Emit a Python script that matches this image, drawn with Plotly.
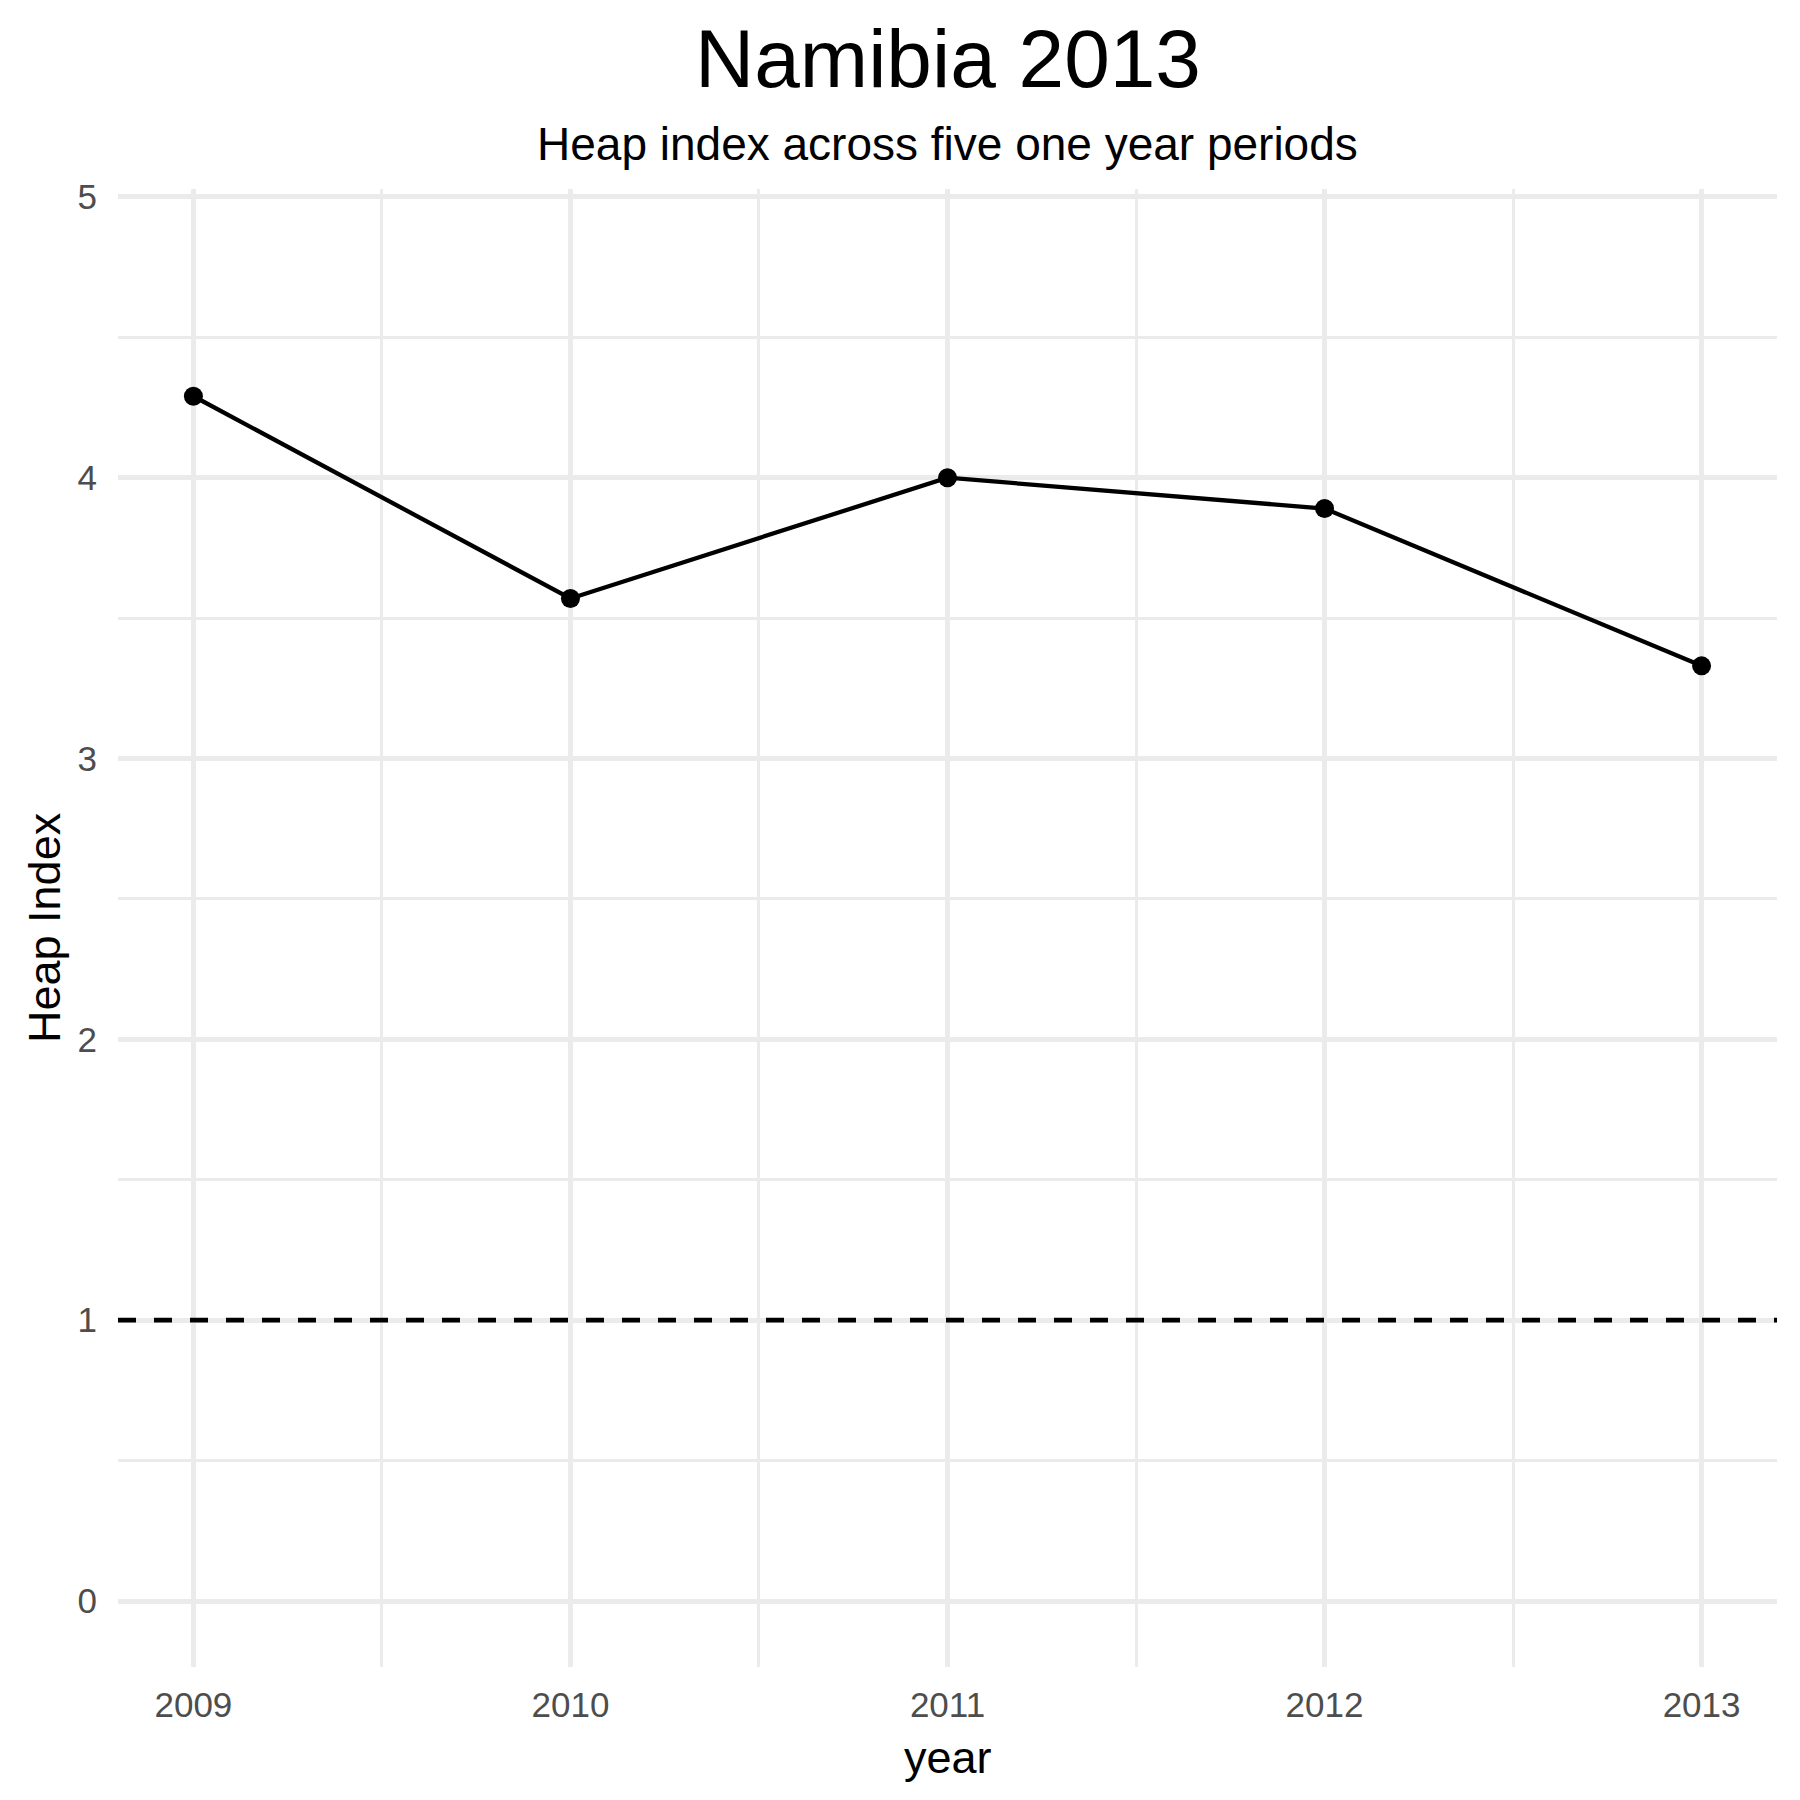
import plotly.graph_objects as go

years = [2009, 2010, 2011, 2012, 2013]
heap_index = [4.29, 3.57, 4.00, 3.89, 3.33]
reference_level = 1
y_ticks = [0, 1, 2, 3, 4, 5]

title_text = "Namibia 2013"
subtitle_text = "Heap index across five one year periods"
x_title = "year"
y_title = "Heap Index"

FONT = "Liberation Sans"
GRID = "#EBEBEB"

fig = go.Figure()

fig.add_trace(go.Scatter(
    x=years, y=heap_index, mode="lines+markers",
    line=dict(color="black", width=4.3),
    marker=dict(color="black", size=19),
    showlegend=False, hoverinfo="x+y",
))

fig.add_shape(
    type="line", xref="paper", yref="y", x0=0, x1=1,
    y0=reference_level, y1=reference_level,
    line=dict(color="black", width=4.7, dash="18px,18px"),
)

fig.update_layout(
    width=1800, height=1800,
    margin=dict(l=110, r=31, t=181, b=141),
    paper_bgcolor="white", plot_bgcolor="white",
    font=dict(family=FONT, color="black"),
    showlegend=False,
    xaxis=dict(
        range=[2008.8, 2013.2],
        tickvals=years, ticktext=[str(y) for y in years],
        showgrid=True, gridcolor=GRID, gridwidth=4.5,
        minor=dict(dtick=0.5, tick0=2009, showgrid=True, gridcolor=GRID, gridwidth=2.5),
        zeroline=False, showline=False, ticks="",
        tickfont=dict(family=FONT, size=35, color="#4D4D4D"),
        ticklabelstandoff=14,
    ),
    yaxis=dict(
        range=[-0.235, 5.028],
        tickvals=y_ticks, ticktext=[str(v) for v in y_ticks],
        showgrid=True, gridcolor=GRID, gridwidth=4.5,
        minor=dict(dtick=0.5, tick0=0, showgrid=True, gridcolor=GRID, gridwidth=2.5),
        zeroline=False, showline=False, ticks="",
        tickfont=dict(family=FONT, size=35, color="#4D4D4D"),
        ticklabelstandoff=20,
    ),
    annotations=[
        dict(text=title_text, xref="paper", yref="paper", x=0.5, y=1,
             xanchor="center", yanchor="middle", yshift=131, showarrow=False,
             font=dict(family=FONT, size=82, color="black")),
        dict(text=subtitle_text, xref="paper", yref="paper", x=0.5, y=1,
             xanchor="center", yanchor="middle", yshift=45, showarrow=False,
             font=dict(family=FONT, size=46, color="black")),
        dict(text=x_title, xref="paper", yref="paper", x=0.5, y=0,
             xanchor="center", yanchor="middle", yshift=-90, showarrow=False,
             font=dict(family=FONT, size=45, color="black")),
        dict(text=y_title, xref="paper", yref="paper", x=0, y=0.5,
             xanchor="center", yanchor="middle", xshift=-74, textangle=-90,
             showarrow=False, font=dict(family=FONT, size=45, color="black")),
    ],
)

fig.write_html("out.html")
